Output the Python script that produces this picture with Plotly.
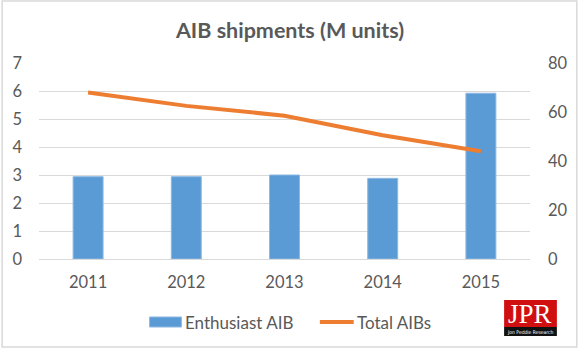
import plotly.graph_objects as go

# AIB market data
years = ["2011", "2012", "2013", "2014", "2015"]
enthusiast_aib = [2.94, 2.94, 3.0, 2.88, 5.92]
total_aibs = [68.0, 62.5, 58.5, 50.5, 44.0]

left_ticks = [0, 1, 2, 3, 4, 5, 6, 7]
right_ticks = [0, 20, 40, 60, 80]

W, H = 580, 349
PL, PR, PT, PB = 38, 531, 63, 259  # plot area in pixels


def px(x):
    return (x - PL) / (PR - PL)


def py(y):
    return (PB - y) / (PB - PT)


FONT = "Lato"
GREY = "#595959"
BLUE = "#5B9BD5"
ORANGE = "#ED7D31"

fig = go.Figure()
fig.add_trace(go.Bar(
    x=years, y=enthusiast_aib, name="Enthusiast AIB",
    marker=dict(color=BLUE, line=dict(color="#8DB8E2", width=1)),
    yaxis="y", showlegend=False,
))
fig.add_trace(go.Scatter(
    x=years, y=total_aibs, name="Total AIBs", mode="lines",
    line=dict(color=ORANGE, width=4),
    yaxis="y2", showlegend=False,
))

shapes = [
    # chart frame
    dict(type="rect", xref="paper", yref="paper",
         x0=px(1), x1=px(578), y0=py(347), y1=py(1),
         line=dict(color="#D9D9D9", width=1.5), layer="below"),
    # legend swatches
    dict(type="rect", xref="paper", yref="paper",
         x0=px(149), x1=px(181), y0=py(327), y1=py(317),
         fillcolor=BLUE, line=dict(color="#8DB8E2", width=1)),
    dict(type="line", xref="paper", yref="paper",
         x0=px(320), x1=px(354), y0=py(322), y1=py(322),
         line=dict(color=ORANGE, width=4)),
    # JPR logo blocks
    dict(type="rect", xref="paper", yref="paper",
         x0=px(505), x1=px(558), y0=py(327), y1=py(300),
         fillcolor="#D01010", line=dict(width=0)),
    dict(type="rect", xref="paper", yref="paper",
         x0=px(505), x1=px(558), y0=py(336), y1=py(327),
         fillcolor="#111111", line=dict(width=0)),
]

annotations = [
    # legend labels
    dict(text="Enthusiast AIB", xref="paper", yref="paper", x=px(183),
         y=py(322), showarrow=False, xanchor="left", yanchor="middle",
         font=dict(family=FONT, size=17, color=GREY)),
    dict(text="Total AIBs", xref="paper", yref="paper", x=px(355),
         y=py(322), showarrow=False, xanchor="left", yanchor="middle",
         font=dict(family=FONT, size=17, color=GREY)),
    # JPR logo text
    dict(text="JPR", xref="paper", yref="paper", x=px(531.5), y=py(314),
         showarrow=False, xanchor="center", yanchor="middle",
         font=dict(family="Liberation Serif", size=27, color="white")),
    dict(text="Jon Peddie Research", xref="paper", yref="paper",
         x=px(531.5), y=py(331.5), showarrow=False, xanchor="center",
         yanchor="middle",
         font=dict(family="DejaVu Sans Condensed, Liberation Sans", size=5,
                   color="white")),
]

fig.update_layout(
    width=W, height=H,
    margin=dict(l=PL, r=W - PR, t=PT, b=H - PB),
    paper_bgcolor="white", plot_bgcolor="white",
    title=dict(text="<b>AIB shipments (M units)</b>", x=0.5, xref="container",
               xanchor="center", y=1 - 30 / H, yanchor="middle",
               font=dict(family=FONT, size=21.5, color=GREY)),
    font=dict(family=FONT, size=16.5, color=GREY),
    bargap=0.695,
    xaxis=dict(showgrid=False, showline=True, linecolor="#D9D9D9",
               linewidth=1, ticks="", ticklabelstandoff=8,
               tickfont=dict(size=16.5, color=GREY)),
    yaxis=dict(range=[0, 7], tickvals=left_ticks, showgrid=True,
               gridcolor="#D9D9D9", gridwidth=1, zeroline=False,
               showline=False, ticks="", ticklabelstandoff=16,
               tickfont=dict(size=16.5, color=GREY)),
    yaxis2=dict(range=[0, 80], tickvals=right_ticks, overlaying="y",
                side="right", showgrid=False, zeroline=False,
                showline=False, ticks="", ticklabelstandoff=17,
                tickfont=dict(size=16.5, color=GREY)),
    shapes=shapes,
    annotations=annotations,
    showlegend=False,
)

fig.write_html("out.html")
